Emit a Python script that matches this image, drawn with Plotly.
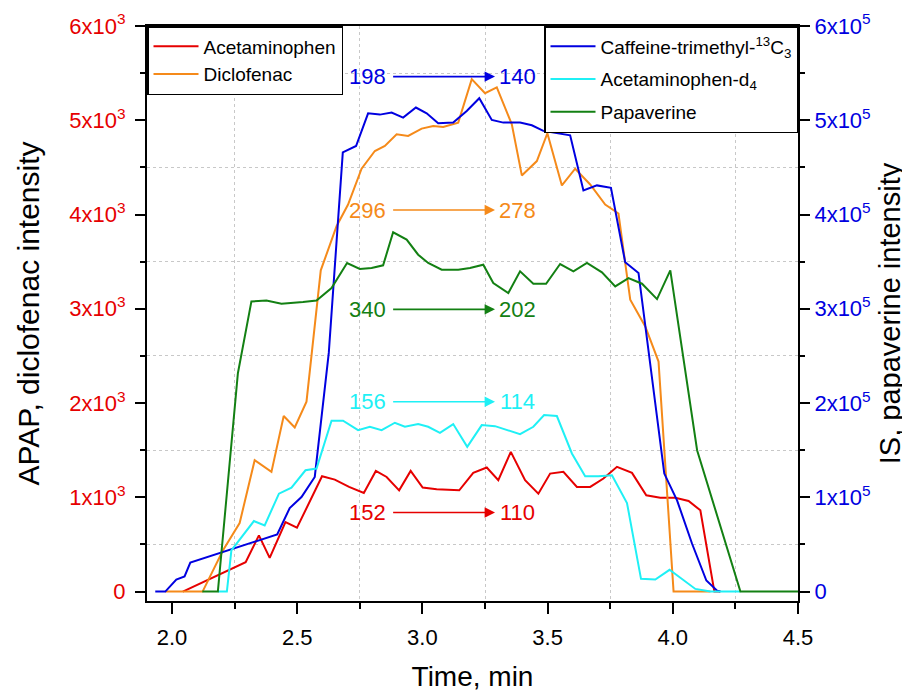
import plotly.graph_objects as go

# ---------------- data ----------------
# Acetaminophen (left axis)
apap_t = [2.043, 2.294, 2.347, 2.39, 2.453, 2.499, 2.599, 2.65, 2.707, 2.766, 2.814, 2.857,
          2.907, 2.953, 3.001, 3.057, 3.147, 3.203, 3.257, 3.303, 3.353, 3.41, 3.463, 3.51,
          3.563, 3.617, 3.67, 3.723, 3.777, 3.837, 3.894, 3.95, 4.01, 4.063, 4.11, 4.166, 4.19]
apap_v = [0, 312, 596, 358, 738, 677, 1223, 1188, 1110, 1046, 1280, 1216,
          1074, 1280, 1103, 1085, 1074, 1259, 1316, 1181, 1482, 1181, 1039, 1252,
          1270, 1110, 1110, 1199, 1323, 1259, 1021, 996, 996, 961, 862, 0, 0]

# Diclofenac (left axis)
dicl_t = [1.973, 2.122, 2.203, 2.27, 2.33, 2.397, 2.446, 2.49, 2.537, 2.594, 2.657, 2.703,
          2.757, 2.81, 2.85, 2.897, 2.943, 2.997, 3.043, 3.083, 3.143, 3.197, 3.25, 3.297,
          3.357, 3.397, 3.457, 3.499, 3.557, 3.61, 3.67, 3.73, 3.783, 3.83, 3.89, 3.943,
          4.003, 4.15]
dicl_v = [0, 0, 436, 727, 1394, 1270, 1862, 1741, 2014, 3408, 3876, 4106,
          4486, 4674, 4727, 4851, 4833, 4911, 4940, 4929, 4975, 5436, 5287, 5348,
          4957, 4415, 4567, 4862, 4309, 4486, 4319, 4106, 4011, 3096, 2812, 2440,
          0, 0]

# Caffeine-trimethyl-13C3 (right axis)
caff_t = [1.933, 1.973, 2.017, 2.05, 2.073, 2.42, 2.47, 2.517, 2.57, 2.626, 2.682, 2.735,
          2.783, 2.83, 2.877, 2.923, 2.974, 3.017, 3.063, 3.123, 3.177, 3.227, 3.277, 3.323,
          3.39, 3.437, 3.483, 3.543, 3.59, 3.643, 3.697, 3.753, 3.81, 3.863, 3.917, 3.966,
          4.017, 4.077, 4.134, 4.177, 4.19]
caff_v = [0, 0, 12800, 16000, 30800, 60600, 88600, 100300, 121600, 253200, 466000, 472700,
          507400, 506000, 508200, 502800, 513500, 507400, 496800, 497500, 509900, 523400, 500400, 497500,
          497500, 494700, 488700, 486200, 484000, 425500, 430900, 428400, 349300, 338000, 224500, 125200,
          96800, 50700, 11700, 1000, 0]

# Acetaminophen-d4 (right axis)
apd4_t = [2.183, 2.219, 2.237, 2.277, 2.327, 2.37, 2.427, 2.477, 2.533, 2.577, 2.637, 2.683,
          2.743, 2.79, 2.837, 2.89, 2.93, 2.983, 3.023, 3.07, 3.123, 3.179, 3.237, 3.29,
          3.337, 3.39, 3.443, 3.486, 3.537, 3.597, 3.65, 3.703, 3.757, 3.817, 3.873, 3.93,
          3.987, 4.09, 4.15, 4.27]
apd4_v = [0, 0, 43600, 57800, 74800, 70200, 103900, 110300, 128700, 130500, 181200, 181200,
          171300, 174800, 171300, 179100, 174800, 177700, 174800, 168400, 177700, 153500, 176600, 175500,
          171300, 167000, 174800, 187200, 186200, 146500, 122300, 122300, 123400, 94000, 13500, 12800,
          23100, 2800, 0, 0]

# Papaverine (right axis)
papa_t = [2.121, 2.183, 2.263, 2.317, 2.377, 2.437, 2.523, 2.577, 2.637, 2.699, 2.75, 2.797,
          2.843, 2.883, 2.937, 2.983, 3.023, 3.077, 3.143, 3.19, 3.243, 3.283, 3.343, 3.39,
          3.443, 3.494, 3.55, 3.603, 3.657, 3.717, 3.77, 3.823, 3.877, 3.937, 3.99, 4.097,
          4.27, 4.5]
papa_v = [0, 0, 231600, 307800, 308800, 305300, 307100, 308800, 322000, 348600, 342200, 343300,
          346100, 381200, 373400, 357400, 348600, 341500, 341500, 343300, 346800, 327300, 316700, 339700,
          326600, 326600, 347500, 339700, 348600, 338700, 323800, 332600, 326600, 310300, 340800, 150000,
          0, 0]

# Arrow annotations: (start label, end label, y level on left axis)
arrow_start_labels = ["198", "296", "340", "156", "152"]
arrow_end_labels = ["140", "278", "202", "114", "110"]
arrow_levels = [5463, 4048, 2994, 2013, 839]

x_ticks = [2.0, 2.5, 3.0, 3.5, 4.0, 4.5]
x_ticktext = ["2.0", "2.5", "3.0", "3.5", "4.0", "4.5"]
left_ticks = [0, 1000, 2000, 3000, 4000, 5000, 6000]
left_ticktext = ["0", "1x10<sup>3</sup>", "2x10<sup>3</sup>", "3x10<sup>3</sup>",
                 "4x10<sup>3</sup>", "5x10<sup>3</sup>", "6x10<sup>3</sup>"]
right_ticks = [0, 100000, 200000, 300000, 400000, 500000, 600000]
right_ticktext = ["0", "1x10<sup>5</sup>", "2x10<sup>5</sup>", "3x10<sup>5</sup>",
                  "4x10<sup>5</sup>", "5x10<sup>5</sup>", "6x10<sup>5</sup>"]

# ---------------- styling ----------------
FONT = "Arial, Liberation Sans, sans-serif"
RED = "#e60000"
ORANGE = "#f58a1a"
BLUE = "#0000e0"
CYAN = "#1ff0f5"
GREEN = "#138013"
arrow_colors = [BLUE, ORANGE, GREEN, CYAN, RED]
LW = 2

fig = go.Figure()
fig.add_trace(go.Scatter(x=apap_t, y=apap_v, mode="lines", name="Acetaminophen",
                         line=dict(color=RED, width=LW), legend="legend"))
fig.add_trace(go.Scatter(x=dicl_t, y=dicl_v, mode="lines", name="Diclofenac",
                         line=dict(color=ORANGE, width=LW), legend="legend"))
fig.add_trace(go.Scatter(x=caff_t, y=caff_v, mode="lines",
                         name="Caffeine-trimethyl-<sup>13</sup>C<sub>3</sub>",
                         line=dict(color=BLUE, width=LW), yaxis="y2", legend="legend2",
                         legendgroup="g1"))
fig.add_trace(go.Scatter(x=apd4_t, y=apd4_v, mode="lines", name="Acetaminophen-d<sub>4</sub>",
                         line=dict(color=CYAN, width=LW), yaxis="y2", legend="legend2",
                         legendgroup="g2"))
fig.add_trace(go.Scatter(x=papa_t, y=papa_v, mode="lines", name="Papaverine",
                         line=dict(color=GREEN, width=LW), yaxis="y2", legend="legend2",
                         legendgroup="g3"))

x_left_label = 2.78
x_right_label = 3.38
x_arrow_tail = 2.877
x_arrow_head = 3.29
for s, e, lvl, col in zip(arrow_start_labels, arrow_end_labels, arrow_levels, arrow_colors):
    fig.add_annotation(x=x_left_label, y=lvl, xref="x", yref="y", text=s, showarrow=False,
                       font=dict(size=22, color=col, family=FONT))
    fig.add_annotation(x=x_right_label, y=lvl, xref="x", yref="y", text=e, showarrow=False,
                       font=dict(size=22, color=col, family=FONT))
    fig.add_annotation(x=x_arrow_head, y=lvl, ax=x_arrow_tail, ay=lvl, xref="x", yref="y",
                       axref="x", ayref="y", text="", showarrow=True, arrowhead=2,
                       arrowsize=1.3, arrowwidth=1.6, arrowcolor=col)

grid = dict(showgrid=True, gridcolor="#c8c8c8", gridwidth=1, griddash="dot")

# the page body has an 8 px margin, so the figure is placed at (8, 8)
fig.update_layout(
    width=902, height=684,
    margin=dict(l=139, r=112, t=18, b=91),
    paper_bgcolor="white", plot_bgcolor="white",
    font=dict(family=FONT, color="black"),
    xaxis=dict(
        range=[1.9, 4.5], tickvals=x_ticks, ticktext=x_ticktext, automargin=False,
        showline=True, linecolor="black", linewidth=2, mirror=True,
        ticks="outside", ticklen=11, tickwidth=2, tickcolor="black",
        showgrid=False, zeroline=False, ticklabelstandoff=5,
        tickfont=dict(size=22, color="black"),
        title=dict(text="Time, min", font=dict(size=28, color="black"), standoff=18),
        minor=dict(tickvals=[2.25, 2.75, 3.25, 3.75, 4.25], ticks="outside", ticklen=6,
                   tickwidth=2, tickcolor="black", **grid),
    ),
    yaxis=dict(
        range=[-100, 6000], tickvals=left_ticks, ticktext=left_ticktext, automargin=False,
        showline=True, linecolor="black", linewidth=2,
        ticks="outside", ticklen=10, tickwidth=2, tickcolor="black",
        showgrid=False, zeroline=False, ticklabelstandoff=5,
        tickfont=dict(size=22, color=RED),
        title=dict(text="APAP, diclofenac intensity", font=dict(size=30, color="black"),
                   standoff=21),
        minor=dict(tickvals=[500, 1500, 2500, 3500, 4500, 5500], ticks="outside", ticklen=5,
                   tickwidth=2, tickcolor="black", **grid),
    ),
    yaxis2=dict(
        range=[-10000, 600000], overlaying="y", side="right", automargin=False,
        tickvals=right_ticks, ticktext=right_ticktext,
        showline=True, linecolor="black", linewidth=2,
        ticks="outside", ticklen=10, tickwidth=2, tickcolor="black",
        showgrid=False, zeroline=False, ticklabelstandoff=0,
        tickfont=dict(size=22, color=BLUE),
        title=dict(text="IS, papaverine intensity", font=dict(size=29, color="black"),
                   standoff=10),
        minor=dict(tickvals=[50000, 150000, 250000, 350000, 450000, 550000], ticks="outside",
                   ticklen=5, tickwidth=2, tickcolor="black"),
    ),
    legend=dict(x=0, y=1, xanchor="left", yanchor="top", bgcolor="white",
                bordercolor="black", borderwidth=1.5, itemwidth=45,
                font=dict(size=19, color="black", family=FONT)),
    legend2=dict(x=1, y=1, xanchor="right", yanchor="top", bgcolor="white",
                 bordercolor="black", borderwidth=1.5, itemwidth=45,
                 traceorder="grouped", tracegroupgap=5,
                 font=dict(size=19, color="black", family=FONT)),
    showlegend=True,
)

fig.write_html("out.html")
